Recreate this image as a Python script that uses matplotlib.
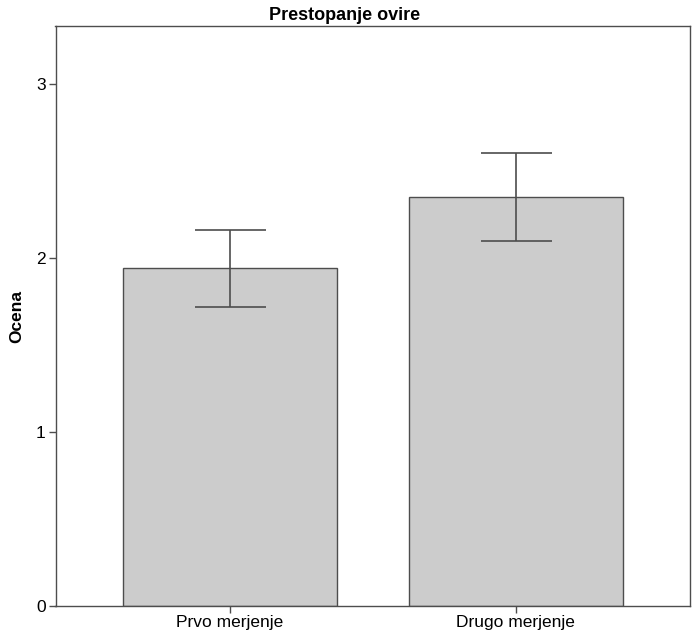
import matplotlib
matplotlib.use("Agg")
import matplotlib.pyplot as plt

plt.rcParams['font.family'] = ['Liberation Sans', 'DejaVu Sans']

# mean score per measurement with error bar half-width
categories = ["Prvo merjenje", "Drugo merjenje"]
means = [1.941, 2.353]
err_low = [0.221, 0.253]
err_high = [0.219, 0.252]
yticks = [0, 1, 2, 3]

fig = plt.figure(figsize=(6.96, 6.42), dpi=100)
ax = fig.add_axes([55.5 / 696, 36.5 / 642, 634.5 / 696, 579.5 / 642])

x = range(len(categories))
ax.bar(x, means, width=0.75, color="#cccccc", edgecolor="#4d4d4d", linewidth=1.0, zorder=2)
ax.errorbar(x, means, yerr=[err_low, err_high], fmt="none", ecolor="#4d4d4d",
            elinewidth=1.2, capsize=35.5 * 72 / 100, capthick=1.2, zorder=3)

ax.set_xlim(-0.611, 1.610)
ax.set_ylim(0, 3.336)
ax.set_xticks(list(x))
ax.set_xticklabels(categories, fontsize=12.5)
ax.set_yticks(yticks)
ax.set_yticklabels([str(t) for t in yticks], fontsize=12.5)
ax.tick_params(direction="out", length=5, width=1, color="#4d4d4d", pad=2)
for s in ax.spines.values():
    s.set_color("#4d4d4d")
    s.set_linewidth(1.0)

fig.text(16.5 / 696, 1 - 316.5 / 642, "Ocena", rotation=90, fontsize=12.5, fontweight="bold",
         ha="center", va="center")
fig.text(345 / 696, 1 - 15 / 642, "Prestopanje ovire", fontsize=13, fontweight="bold",
         ha="center", va="center")

fig.savefig("out.png", dpi=100)
